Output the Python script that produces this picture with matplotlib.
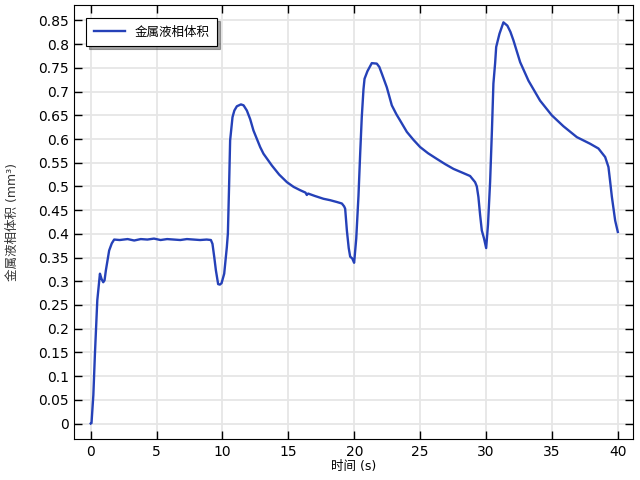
import matplotlib.pyplot as plt
from matplotlib.ticker import FuncFormatter, MultipleLocator

# Digits in DejaVu, Chinese glyphs fall back to Noto CJK
plt.rcParams["font.family"] = ["DejaVu Sans", "Noto Sans CJK SC"]
plt.rcParams["axes.unicode_minus"] = False

# Values
time_s = [0.0, 0.06, 0.2, 0.32, 0.5, 0.7, 0.82, 0.95, 1.05, 1.15, 1.4, 1.6, 1.78,
          2.2, 2.8, 3.3, 3.8, 4.3, 4.8, 5.3, 5.8, 6.3, 6.8, 7.3, 7.8, 8.3, 8.8, 9.12,
          9.24, 9.38, 9.5, 9.67, 9.8, 9.93, 10.13, 10.33, 10.41, 10.5, 10.58, 10.76,
          10.9, 11.09, 11.4, 11.6, 11.85, 12.1, 12.35, 12.86, 13.11, 13.75, 14.3,
          14.89, 15.4, 15.9, 16.3, 16.4, 16.5, 17.0, 17.66, 18.17, 18.7, 19.06, 19.23,
          19.31, 19.44, 19.58, 19.69, 19.85, 19.99, 20.15, 20.32, 20.45, 20.57, 20.7,
          20.78, 21.0, 21.33, 21.71, 21.9, 22.09, 22.47, 22.85, 23.2, 23.48, 23.99,
          24.5, 25.0, 25.6, 26.27, 26.9, 27.53, 28.29, 28.79, 29.17, 29.3, 29.42,
          29.55, 29.68, 29.85, 30.01, 30.15, 30.31, 30.45, 30.56, 30.69, 30.77,
          31.02, 31.32, 31.62, 31.85, 32.08, 32.59, 33.22, 34.1, 34.99, 35.87, 36.89,
          37.9, 38.53, 39.04, 39.29, 39.42, 39.55, 39.8, 40.0]
liquid_volume = [0.0, 0.001, 0.06, 0.147, 0.26, 0.316, 0.305, 0.298, 0.302, 0.323,
                 0.365, 0.38, 0.388, 0.387, 0.389, 0.386, 0.389, 0.388, 0.390, 0.387,
                 0.389, 0.388, 0.387, 0.389, 0.388, 0.387, 0.388, 0.387, 0.379, 0.35,
                 0.323, 0.294, 0.293, 0.296, 0.316, 0.372, 0.401, 0.5, 0.597, 0.646,
                 0.66, 0.669, 0.673, 0.671, 0.66, 0.642, 0.618, 0.583, 0.569, 0.544,
                 0.525, 0.509, 0.499, 0.492, 0.487, 0.482, 0.485, 0.48, 0.474, 0.471,
                 0.467, 0.464, 0.458, 0.453, 0.407, 0.37, 0.352, 0.348, 0.339, 0.39,
                 0.48, 0.57, 0.646, 0.705, 0.727, 0.743, 0.760, 0.759, 0.752, 0.738,
                 0.709, 0.671, 0.652, 0.639, 0.615, 0.598, 0.583, 0.57, 0.558, 0.547,
                 0.537, 0.528, 0.522, 0.509, 0.5, 0.478, 0.44, 0.407, 0.39, 0.370, 0.42,
                 0.51, 0.62, 0.717, 0.760, 0.794, 0.822, 0.846, 0.839, 0.826, 0.808,
                 0.762, 0.723, 0.681, 0.650, 0.627, 0.604, 0.590, 0.580, 0.562, 0.541,
                 0.51, 0.478, 0.428, 0.404]

fig = plt.figure(figsize=(6.4, 4.8), dpi=100)
ax = fig.add_axes([0.116, 0.085, 0.873, 0.904])

ax.plot(time_s, liquid_volume, color="#2541b8", linewidth=1.7, label="金属液相体积")

ax.set_xlim(-1.25, 41.15)
ax.set_ylim(-0.033, 0.882)
ax.xaxis.set_major_locator(MultipleLocator(5))
ax.yaxis.set_major_locator(MultipleLocator(0.05))
ax.yaxis.set_major_formatter(FuncFormatter(lambda v, pos: f"{round(v, 2):g}"))
ax.tick_params(direction="in", length=6, width=1, top=True, right=True,
               labelsize=10, labelright=False, labeltop=False, pad=4)
ax.grid(True, color="#e6e6e6", linewidth=1.3)
ax.set_axisbelow(True)

ax.set_xlabel("时间 (s)", fontsize=9, labelpad=1)
ax.set_ylabel("金属液相体积 (mm³)", fontsize=9, color="#333333", labelpad=14)

leg = ax.legend(loc="upper left", bbox_to_anchor=(0.01, 0.985), fancybox=False,
                shadow=True, framealpha=1, edgecolor="black", fontsize=9,
                handlelength=2.5, borderpad=0.6)
leg.get_frame().set_linewidth(0.8)

fig.savefig("out.png", dpi=100)
